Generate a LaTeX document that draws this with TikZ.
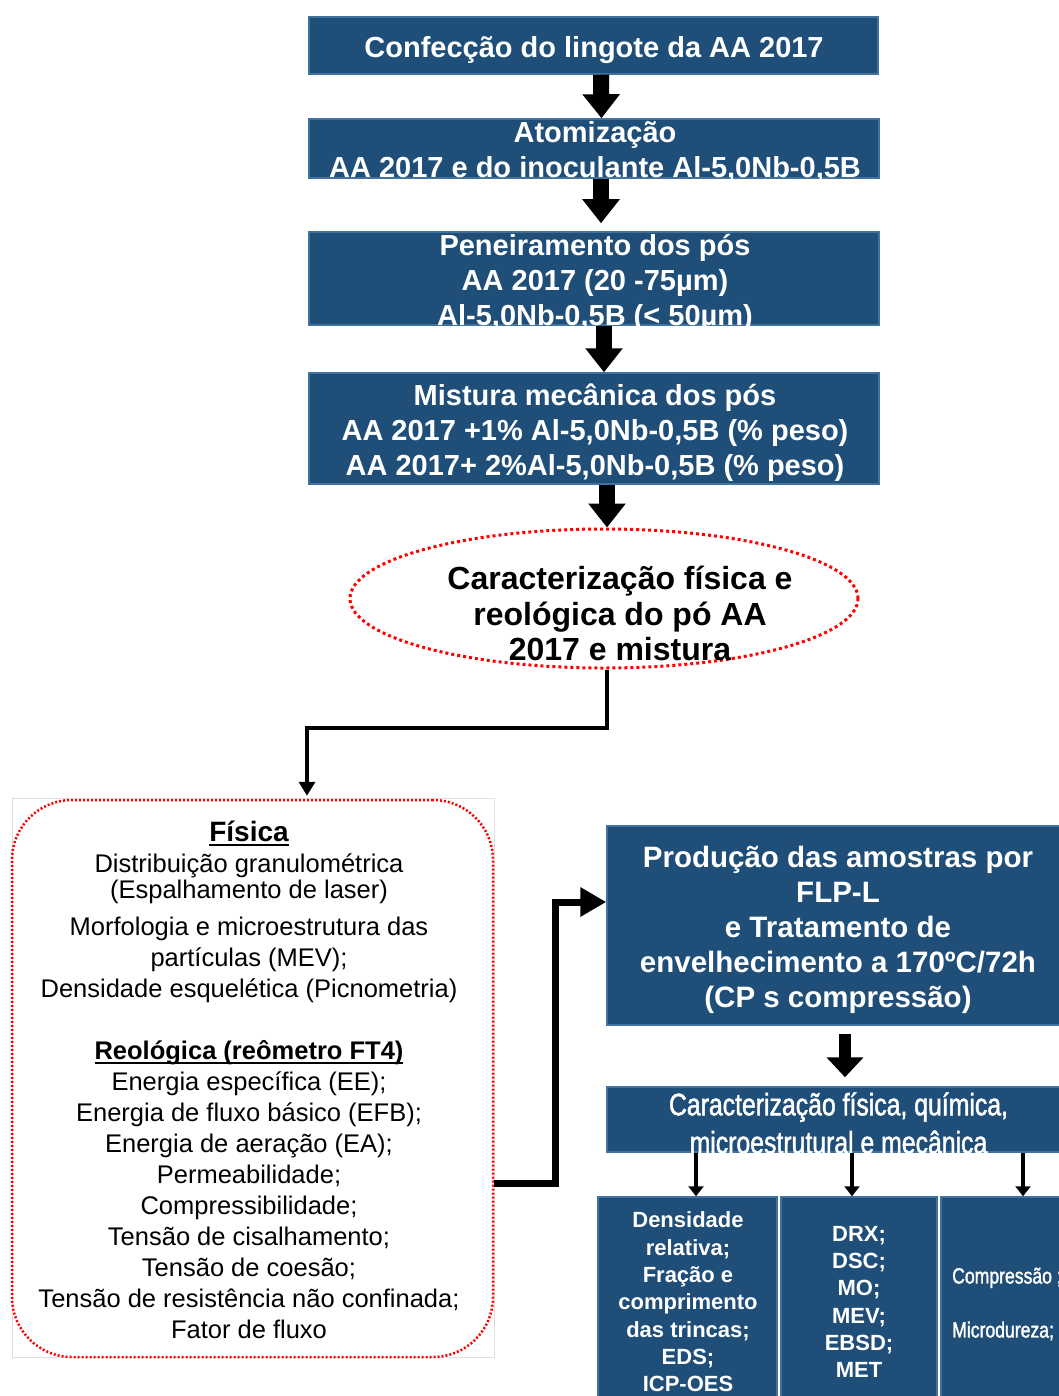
\documentclass[tikz,border=0pt]{standalone}
\usepackage{fontspec}
\setmainfont{Liberation Sans}
\newfontfamily\narrowfont[FakeStretch=0.8,FakeBold=1.5]{Liberation Sans}
\usetikzlibrary{arrows.meta,shapes.geometric,calc}
\definecolor{boxblue}{HTML}{1F4E79}
\definecolor{boxedge}{HTML}{41719C}
\newcommand{\myul}[1]{\setbox0\hbox{#1}\rlap{\rule[-5pt]{\wd0}{2pt}}\box0}
\begin{document}
\begin{tikzpicture}[x=1pt,y=-1pt,
  bluebox/.style={rectangle, fill=boxblue, draw=boxedge, line width=1.5pt, inner sep=0pt},
  boxtext/.style={text=white, font=\fontsize{29}{35}\selectfont\bfseries, align=center, inner sep=0pt},
  smalltext/.style={text=white, font=\fontsize{22}{27.3}\selectfont\bfseries, align=center, inner sep=0pt},
  bigarrow/.style={line width=16pt, -{Triangle[length=24pt,width=36pt]}},
  midarrow/.style={line width=12pt, -{Triangle[length=20pt,width=36pt]}},
  thinarrow/.style={line width=4pt, -{Triangle[length=10pt,width=15pt]}},
  elbowarrow/.style={line width=3.5pt, -{Triangle[length=14pt,width=16pt]}},
  fatelbow/.style={line width=7pt, -{Triangle[length=26pt,width=28pt]}},
]
\useasboundingbox (0,0) rectangle (1059,1396);
\clip (0,0) rectangle (1059,1396);
\fill[white] (0,0) rectangle (1059,1396);

% top chain
\node[bluebox, minimum width=569pt, minimum height=57pt] (b1) at (593.5,45.5) {};
\node[boxtext] (t1) at (594,50) {Confecção do lingote da AA 2017};
\node[bluebox, minimum width=570pt, minimum height=59pt] (b2) at (594,148.5) {};
\node[boxtext] (t2) at (595,152) {Atomização\\AA 2017 e do inoculante Al-5,0Nb-0,5B};
\node[bluebox, minimum width=570pt, minimum height=93pt] (b3) at (594,278.5) {};
\node[boxtext] (t3) at (595,283) {Peneiramento dos pós\\AA 2017 (20 -75µm)\\Al-5,0Nb-0,5B (< 50µm)};
\node[bluebox, minimum width=570pt, minimum height=111pt] (b4) at (594,428.5) {};
\node[boxtext] (t4) at (595,433) {Mistura mecânica dos pós\\AA 2017 +1\% Al-5,0Nb-0,5B (\% peso)\\AA 2017+ 2\%Al-5,0Nb-0,5B (\% peso)};

\draw[bigarrow] ([xshift=7.5pt]b1.south) -- ([xshift=7.5pt]b2.north);
\draw[bigarrow, shorten >=8pt] ([xshift=7pt]b2.south) -- ([xshift=7pt]b3.north);
\draw[bigarrow] ([xshift=10pt]b3.south) -- ([xshift=10pt]b4.north);

% ellipse
\node[ellipse, draw=red, line width=3pt, dash pattern=on 3pt off 3pt, minimum width=508pt, minimum height=139pt, inner sep=0pt] (ell) at (604,598.5) {};
\node[align=center, inner sep=0pt, font=\fontsize{32}{35.5}\selectfont\bfseries] (et) at (620,613.5) {Caracterização física e\\reológica do pó AA\\2017 e mistura};
\draw[bigarrow] ([xshift=13pt]b4.south) -- ([xshift=13pt]b4.south |- ell.north);

% left box
\draw[gray!25, line width=0.8pt] (12,798) rectangle (494,1357);
\node[rectangle, rounded corners=60pt, draw=red, line width=2.5pt, dash pattern=on 2pt off 2pt, minimum width=481pt, minimum height=557pt, inner sep=0pt] (fis) at (252.5,1078.5) {};
\node[align=center, inner sep=0pt, font=\fontsize{25.5}{31}\selectfont] (ft) at (249,1079.5) {{\fontsize{28}{31}\selectfont\bfseries\myul{Física}}\\
Distribuição granulométrica\\[-5pt]
(Espalhamento de laser)\\[6pt]
Morfologia e microestrutura das\\
partículas (MEV);\\
Densidade esquelética (Picnometria)\\[31pt]
{\bfseries\myul{Reológica (reômetro FT4)}}\\
Energia específica (EE);\\
Energia de fluxo básico (EFB);\\
Energia de aeração (EA);\\
Permeabilidade;\\
Compressibilidade;\\
Tensão de cisalhamento;\\
Tensão de coesão;\\
Tensão de resistência não confinada;\\
Fator de fluxo};

\coordinate (k1) at (307,728);
\draw[elbowarrow, shorten >=3pt] ([xshift=3pt]ell.south) |- (k1) -- (k1 |- fis.north);

% right side
\node[bluebox, minimum width=463pt, minimum height=199pt] (prod) at (838.5,925.5) {};
\node[boxtext, font=\fontsize{29.5}{35}\selectfont\bfseries] (pt) at (838,930) {Produção das amostras por\\FLP-L\\e Tratamento de\\envelhecimento a 170ºC/72h\\(CP s compressão)};

\coordinate (j1) at (0,1183);
\coordinate (j2) at (555,902);
\draw[fatelbow] (fis.east |- j1) -| (j2) -- (prod.west |- j2);

\node[bluebox, minimum width=463pt, minimum height=65pt] (car) at (838.5,1119.5) {};
\node[text=white, align=center, inner sep=0pt, font=\narrowfont\fontsize{31}{38}\selectfont] (ct) at (838.5,1123) {Caracterização física, química,\\microestrutural e mecânica};
\draw[midarrow, shorten <=8pt, shorten >=9pt] ([xshift=6.5pt]prod.south) -- ([xshift=6.5pt]car.north);

\node[bluebox, minimum width=179pt, minimum height=203pt] (ba) at (687.5,1298.5) {};
\node[bluebox, minimum width=156pt, minimum height=203pt] (bb) at (859,1298.5) {};
\node[bluebox, minimum width=129pt, minimum height=203pt] (bc) at (1005.5,1298.5) {};
\node[smalltext] (at) at (688,1302) {Densidade\\relativa;\\Fração e\\comprimento\\das trincas;\\EDS;\\ICP-OES};
\node[smalltext] (bt) at (859,1302) {DRX;\\DSC;\\MO;\\MEV;\\EBSD;\\MET};
\node[text=white, align=left, anchor=west, inner sep=0pt, font=\narrowfont\fontsize{22}{54}\selectfont] (cct) at (952,1304) {Compressão ;\\Microdureza;};

\draw[thinarrow] ([xshift=8.5pt]ba.north |- car.south) -- ([xshift=8.5pt]ba.north);
\draw[thinarrow] ([xshift=-7pt]bb.north |- car.south) -- ([xshift=-7pt]bb.north);
\draw[thinarrow] ([xshift=17.5pt]bc.north |- car.south) -- ([xshift=17.5pt]bc.north);
\end{tikzpicture}
\end{document}
